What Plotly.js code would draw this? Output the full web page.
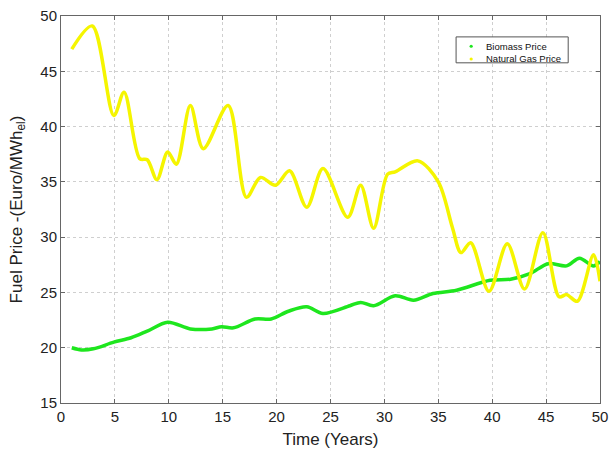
<!DOCTYPE html>
<html>
<head>
<meta charset="utf-8">
<script src="https://cdn.plot.ly/plotly-3.0.1.min.js"></script>
<style>html,body{margin:0;padding:0;background:#fff;}#chart{width:609px;height:452px;}</style>
</head>
<body>
<div id="chart"></div>
<script>
var gasYears = [1, 2.9, 4.9, 5.85, 7.3, 8.0, 8.9, 9.9, 10.7, 12.0, 13.2, 15.5, 17.2, 18.5, 19.9, 21.2, 22.8, 24.3, 26.6, 27.8, 29.0, 30.3, 31.0, 33.1, 35.0, 36.3, 37.1, 38.0, 39.7, 41.4, 43.0, 44.7, 46.2, 46.9, 47.9, 49.4, 50];
var gasPrice = [47.0, 49.1, 41.0, 43.1, 37.1, 37.0, 35.2, 37.7, 36.6, 41.9, 38.0, 41.9, 33.6, 35.4, 34.7, 36.0, 32.7, 36.2, 31.8, 34.7, 30.8, 35.7, 35.9, 36.9, 35.0, 30.9, 28.6, 29.5, 25.1, 29.4, 25.3, 30.4, 24.6, 24.8, 24.2, 28.4, 26.0];
var bioYears = [1, 1.9, 3, 4.9, 6.5, 8.0, 9.9, 12.0, 14.0, 14.9, 16.0, 18.0, 19.5, 21.1, 22.8, 24.3, 26.8, 27.8, 29.0, 31.0, 32.7, 34.5, 36.7, 39.8, 41.7, 43.5, 45.2, 46.9, 48.1, 49.4, 50];
var bioPrice = [20.0, 19.8, 19.9, 20.5, 20.9, 21.5, 22.3, 21.7, 21.7, 21.9, 21.8, 22.6, 22.6, 23.3, 23.7, 23.1, 23.8, 24.1, 23.8, 24.7, 24.3, 24.9, 25.2, 26.1, 26.2, 26.7, 27.6, 27.4, 28.1, 27.4, 27.8];
var xTicks = [0, 5, 10, 15, 20, 25, 30, 35, 40, 45, 50];
var yTicks = [15, 20, 25, 30, 35, 40, 45, 50];
var seriesNames = ['Biomass Price', 'Natural Gas Price'];

var green = '#1ee61e';
var yellow = '#f5f500';
var font = 'Liberation Sans, Arial, sans-serif';

var traces = [
  {x: bioYears, y: bioPrice, name: seriesNames[0], mode: 'lines', line: {color: green, width: 3.5, shape: 'spline', smoothing: 0.9}, hoverinfo: 'skip'},
  {x: gasYears, y: gasPrice, name: seriesNames[1], mode: 'lines', line: {color: yellow, width: 3.5, shape: 'spline', smoothing: 0.9}, hoverinfo: 'skip'}
];

var axisCommon = {
  showline: true, linecolor: '#666', linewidth: 1, mirror: 'ticks',
  ticks: 'inside', ticklen: 4, tickcolor: '#666',
  showgrid: true, gridcolor: '#cfcfcf', griddash: 'dot', gridwidth: 1,
  zeroline: false,
  tickfont: {family: font, size: 15, color: '#222'}
};

// Legend box drawn in paper coordinates (compact, like the reference)
var lgX0 = 0.733, lgX1 = 0.941, lgY0 = 0.879, lgY1 = 0.946;
var dotX = 0.761, textX = 0.785, rowY = [0.922, 0.889];
var colors = [green, yellow];
var shapes = [{type: 'rect', xref: 'paper', yref: 'paper', x0: lgX0, x1: lgX1, y0: lgY0, y1: lgY1, line: {color: '#555', width: 1}, fillcolor: '#fff', layer: 'above'}];
var annotations = [];
for (var i = 0; i < 2; i++) {
  shapes.push({type: 'circle', xref: 'paper', yref: 'paper', x0: dotX - 0.003, x1: dotX + 0.003, y0: rowY[i] - 0.004, y1: rowY[i] + 0.004, line: {width: 0}, fillcolor: colors[i], layer: 'above'});
  annotations.push({xref: 'paper', yref: 'paper', x: textX, y: rowY[i], xanchor: 'left', yanchor: 'middle', showarrow: false, text: seriesNames[i], font: {family: font, size: 9.5, color: '#111'}});
}

var layout = {
  width: 609, height: 452,
  margin: {l: 61, r: 9, t: 16, b: 49},
  paper_bgcolor: '#fff', plot_bgcolor: '#fff',
  showlegend: false,
  shapes: shapes,
  annotations: annotations,
  xaxis: Object.assign({}, axisCommon, {
    range: [0, 50], tickvals: xTicks, ticktext: xTicks.map(String),
    title: {text: 'Time (Years)', font: {family: font, size: 17, color: '#222'}, standoff: 9}
  }),
  yaxis: Object.assign({}, axisCommon, {
    range: [15, 50], tickvals: yTicks, ticktext: yTicks.map(String),
    title: {text: 'Fuel Price -(Euro/MWh<sub>el</sub>)', font: {family: font, size: 17, color: '#222'}, standoff: 13}
  })
};

Plotly.newPlot('chart', traces, layout, {displayModeBar: false, staticPlot: true});
</script>
</body>
</html>
